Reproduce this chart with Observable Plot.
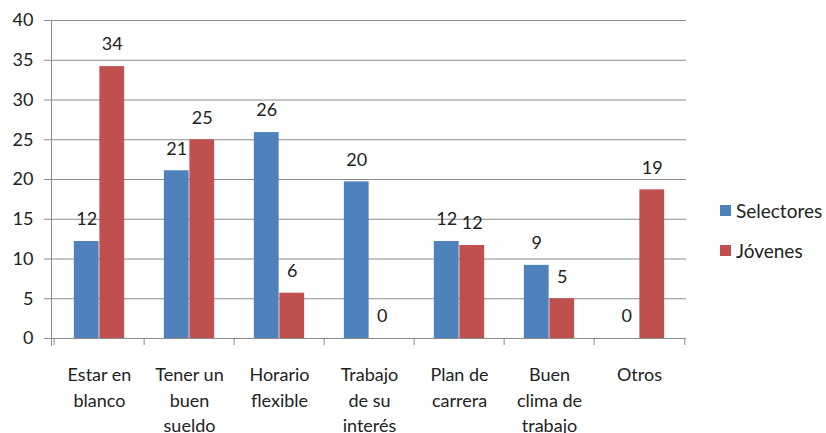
<!DOCTYPE html>
<html>
<head>
<meta charset="utf-8">
<script src="https://cdn.jsdelivr.net/npm/d3@7"></script>
<script src="https://cdn.jsdelivr.net/npm/@observablehq/plot@0.6"></script>
<style>
  html, body { margin: 0; padding: 0; background: #fff; }
  #wrap { position: relative; width: 826px; height: 433px; font-family: Lato, "Open Sans", sans-serif; }
  .leg { position: absolute; left: 720px; font-size: 19px; color: #222; display: flex; align-items: center; }
  .sw { width: 11px; height: 11px; margin-right: 5px; }
</style>
</head>
<body>
<div id="wrap"></div>
<script>
const categories = ["Estar en blanco", "Tener un buen sueldo", "Horario flexible", "Trabajo de su interés", "Plan de carrera", "Buen clima de trabajo", "Otros"];
const categoryLabels = ["Estar en\nblanco", "Tener un\nbuen\nsueldo", "Horario\nflexible", "Trabajo\nde su\ninterés", "Plan de\ncarrera", "Buen\nclima de\ntrabajo", "Otros"];
const selectores = [12.2, 21.1, 25.9, 19.7, 12.2, 9.2, 0];
const jovenes = [34.2, 25.0, 5.7, 0, 11.7, 5.0, 18.7];
const seriesNames = ["Selectores", "Jóvenes"];
const seriesColors = ["#4F81BD", "#C0504D"];
const yTicks = [0, 5, 10, 15, 20, 25, 30, 35, 40];

const table = categories.map((c, i) => ({cat: c, label: categoryLabels[i], sel: selectores[i], jov: jovenes[i]}));
const labelOf = new Map(categories.map((c, i) => [c, categoryLabels[i]]));

const W = 826, H = 433, mL = 51, mR = 140, mT = 20, mB = 95;
const band = (W - mL - mR) / categories.length;
const half = band / 2;
const barW = 25.5;
const grid = "#8c8c8c";
const fs = 18;

const chart = Plot.plot({
  width: W,
  height: H,
  marginLeft: mL,
  marginRight: mR,
  marginTop: mT,
  marginBottom: mB,
  style: {fontFamily: "Lato, 'Open Sans', sans-serif", fontSize: fs + "px", color: "#222", background: "#fff"},
  x: {type: "band", domain: categories, padding: 0},
  y: {domain: [0, 40]},
  marks: [
    Plot.gridY(yTicks, {stroke: grid, strokeOpacity: 1}),
    Plot.axisY(yTicks, {tickSize: 7, tickPadding: 11, stroke: grid, fontSize: fs, fill: "#222"}),
    Plot.frame({anchor: "left", stroke: grid, insetBottom: -7}),
    Plot.ruleY([0], {stroke: grid}),
    Plot.ruleX(categories, {x: d => d, dx: -half, y1: 0, y2: 0, insetTop: 7, stroke: grid}),
    Plot.ruleX(categories.slice(-1), {x: d => d, dx: half, y1: 0, y2: 0, insetTop: 7, stroke: grid}),
    Plot.barY(table, {x: "cat", y: "sel", fill: seriesColors[0], insetLeft: half - barW, insetRight: half}),
    Plot.barY(table, {x: "cat", y: "jov", fill: seriesColors[1], insetLeft: half, insetRight: half - barW}),
    Plot.text(table, {x: "cat", y: "sel", text: d => d3.format(".0f")(d.sel), dx: -barW / 2, dy: -22, lineAnchor: "middle", fontSize: fs, fill: "#222"}),
    Plot.text(table, {x: "cat", y: "jov", text: d => d3.format(".0f")(d.jov), dx: barW / 2, dy: -22, lineAnchor: "middle", fontSize: fs, fill: "#222"}),
    Plot.axisX({tickSize: 0, tickPadding: 25, tickFormat: d => labelOf.get(d), lineHeight: 1.4, fontSize: fs, fill: "#222", label: null})
  ]
});

const wrap = document.getElementById("wrap");
wrap.appendChild(chart);
const legTops = [199, 239];
seriesNames.forEach((name, i) => {
  const el = document.createElement("div");
  el.className = "leg";
  el.style.top = legTops[i] + "px";
  el.innerHTML = `<span class="sw" style="background:${seriesColors[i]}"></span><span>${name}</span>`;
  wrap.appendChild(el);
});
</script>
</body>
</html>
